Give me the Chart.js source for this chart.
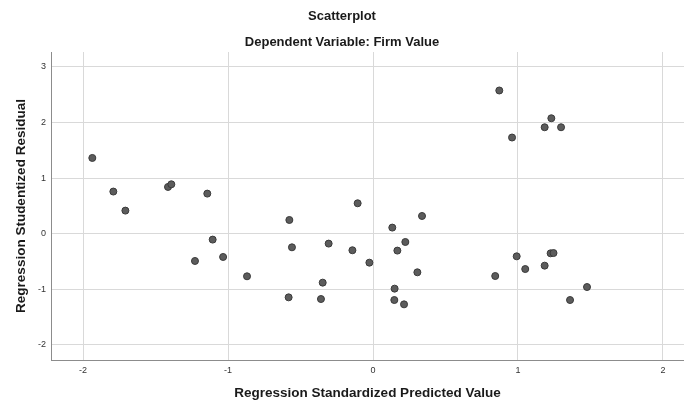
<!DOCTYPE html>
<html>
<head>
<meta charset="utf-8">
<script src="https://cdn.jsdelivr.net/npm/chart.js@4/dist/chart.umd.min.js"></script>
<style>
  html, body { margin: 0; padding: 0; background: #fff; }
  #wrap { width: 684px; height: 405px; }
</style>
</head>
<body>
<div id="wrap"><canvas id="scatterChart" width="684" height="405"></canvas></div>
<script>
// Regression standardized predicted value (x) and studentized residual (y)
const predicted = [
  -1.936, -1.791, -1.708, -1.414, -1.391, -1.143, -0.577, -1.106, -0.559, -1.228,
  -1.034, -0.869, -0.582, -0.106, 0.338, 0.133, -0.306, -0.142, 0.223, 0.168,
  -0.025, 0.306, -0.347, 0.149, -0.359, 0.147, 0.214, 0.871, 1.230, 1.184,
  1.297, 0.959, 0.991, 1.225, 1.245, 1.050, 1.184, 0.843, 1.476, 1.359
];
const residual = [
  1.362, 0.757, 0.414, 0.840, 0.888, 0.720, 0.245, -0.108, -0.247, -0.493,
  -0.421, -0.769, -1.148, 0.546, 0.317, 0.108, -0.180, -0.300, -0.151, -0.306,
  -0.523, -0.697, -0.883, -0.991, -1.178, -1.196, -1.274, 2.577, 2.077, 1.915,
  1.915, 1.730, -0.409, -0.355, -0.350, -0.638, -0.577, -0.764, -0.962, -1.196
];
const xTicks = [-2, -1, 0, 1, 2];
const yTicks = [-2, -1, 0, 1, 2, 3];

const FONT = "'Liberation Sans', Arial, sans-serif";

document.addEventListener('DOMContentLoaded', () => {
    const points = predicted.map((x, i) => ({ x: x, y: residual[i] }));

    const ctx = document.getElementById('scatterChart').getContext('2d');
    new Chart(ctx, {
        type: 'scatter',
        data: {
            datasets: [{
                data: points,
                backgroundColor: '#5c5c5c',
                borderColor: '#3a3a3a',
                borderWidth: 1,
                pointRadius: 3.5,
                pointHoverRadius: 3.5
            }]
        },
        options: {
            responsive: false,
            animation: false,
            // no auto padding: plot runs to the right edge like the original
            layout: { padding: 0, autoPadding: false },
            plugins: {
                legend: { display: false },
                tooltip: { enabled: false },
                title: {
                    display: true,
                    text: 'Scatterplot',
                    color: '#1a1a1a',
                    font: { family: FONT, size: 13, weight: 'bold' },
                    padding: { top: 8.9, bottom: 10 }
                },
                subtitle: {
                    display: true,
                    text: 'Dependent Variable: Firm Value',
                    color: '#1a1a1a',
                    font: { family: FONT, size: 13, weight: 'bold' },
                    padding: { top: 0, bottom: 1.9 }
                }
            },
            scales: {
                x: {
                    type: 'linear',
                    min: -2.221,
                    max: 2.145,
                    afterFit: scale => {
                        scale.height = 45;
                        scale.paddingLeft = 0;
                        scale.paddingRight = 0;
                    },
                    afterBuildTicks: scale => { scale.ticks = xTicks.map(v => ({ value: v })); },
                    grid: { color: '#d9d9d9', lineWidth: 1, drawTicks: false },
                    border: { display: true, color: '#8c8c8c', width: 1 },
                    ticks: {
                        color: '#333',
                        padding: 5,
                        font: { family: FONT, size: 9 }
                    },
                    title: {
                        display: true,
                        text: 'Regression Standardized Predicted Value',
                        color: '#1a1a1a',
                        font: { family: FONT, size: 13.5, weight: 'bold' },
                        padding: { top: 0, bottom: 3.9 }
                    }
                },
                y: {
                    type: 'linear',
                    min: -2.276,
                    max: 3.27,
                    afterFit: scale => { scale.width = 51; },
                    afterBuildTicks: scale => { scale.ticks = yTicks.map(v => ({ value: v })); },
                    grid: { color: '#d9d9d9', lineWidth: 1, drawTicks: false },
                    border: { display: true, color: '#8c8c8c', width: 1 },
                    ticks: {
                        color: '#333',
                        padding: 5,
                        font: { family: FONT, size: 9 }
                    },
                    title: {
                        display: true,
                        text: 'Regression Studentized Residual',
                        color: '#1a1a1a',
                        font: { family: FONT, size: 13.5, weight: 'bold' },
                        padding: { top: 12.9, bottom: 0 }
                    }
                }
            }
        }
    });
});
</script>
</body>
</html>
